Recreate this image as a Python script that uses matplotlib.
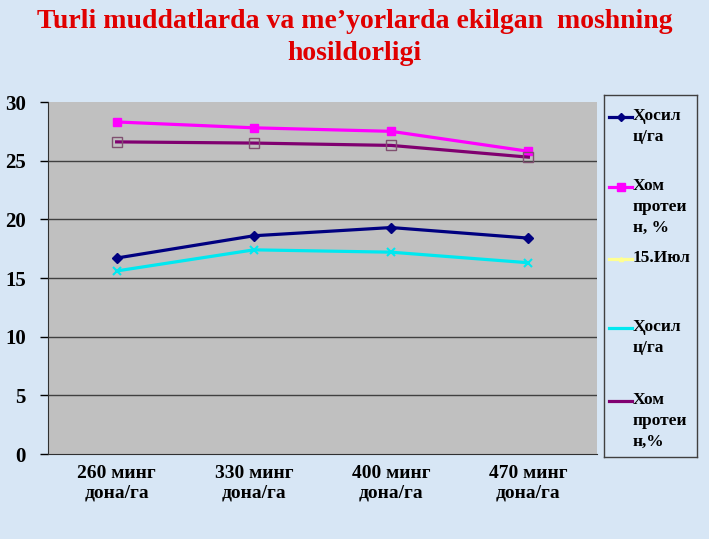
import matplotlib.pyplot as plt

# ------------------------------
# data
# ------------------------------
categories = ["260 минг\nдона/га", "330 минг\nдона/га", "400 минг\nдона/га", "470 минг\nдона/га"]
hosil_1 = [16.7, 18.6, 19.3, 18.4]
protein_1 = [28.3, 27.8, 27.5, 25.8]
hosil_2 = [15.6, 17.4, 17.2, 16.3]
protein_2 = [26.6, 26.5, 26.3, 25.3]
yticks = [0, 5, 10, 15, 20, 25, 30]

legend_labels = ["Ҳосил\nц/га", "Хом\nпротеи\nн, %", "15.Июл", "Ҳосил\nц/га", "Хом\nпротеи\nн,%"]

W, H = 709, 539
BG = "#d7e6f5"
SERIF = ["Liberation Serif", "DejaVu Serif"]

fig = plt.figure(figsize=(W / 100, H / 100), dpi=100, facecolor=BG)


def box(x0, y0, x1, y1):
    # pixel box (top-left origin) -> figure fraction rect
    return [x0 / W, 1 - y1 / H, (x1 - x0) / W, (y1 - y0) / H]


# ------------------------------
# title
# ------------------------------
fig.text(0.5, 1 - 21 / H, "Turli muddatlarda va me’yorlarda ekilgan  moshning",
         ha="center", va="center", color="#e00000", fontsize=20, fontweight="bold",
         family=SERIF)
fig.text(0.5, 1 - 53 / H, "hosildorligi",
         ha="center", va="center", color="#e00000", fontsize=20, fontweight="bold",
         family=SERIF)

# ------------------------------
# main chart
# ------------------------------
ax = fig.add_axes(box(48, 102, 597, 454))
ax.set_facecolor("#c0c0c0")
x = range(len(categories))

ax.plot(x, hosil_1, color="#000080", lw=2.3, marker="D", ms=5, zorder=3)
ax.plot(x, protein_1, color="#ff00ff", lw=2.3, marker="s", ms=6, zorder=3)
ax.plot(x, hosil_2, color="#00e8f0", lw=2.3, marker="x", ms=6, mew=1.5, zorder=3)
ax.plot(x, protein_2, color="#800070", lw=2.3, marker="s", ms=7, mfc="none",
        mec="#805070", zorder=3)

ax.set_xlim(-0.5, len(categories) - 0.5)
ax.set_ylim(0, 30)
ax.set_yticks(yticks)
ax.set_yticklabels([str(v) for v in yticks], fontsize=15, fontweight="bold", family=SERIF)
ax.set_xticks(list(x))
ax.set_xticklabels(categories, fontsize=14, fontweight="bold", family=SERIF, linespacing=1.2)
ax.tick_params(axis="x", length=0, pad=8)
ax.tick_params(axis="y", length=6, width=1, pad=10)
for v in yticks[1:-1]:
    ax.axhline(v, color="#404040", lw=1, zorder=1)
for s in ["top", "right"]:
    ax.spines[s].set_visible(False)
ax.spines["left"].set_color("#303030")
ax.spines["bottom"].set_color("#303030")

# ------------------------------
# legend box
# ------------------------------
lg = fig.add_axes(box(604, 95, 697, 457))
lg.set_xlim(604, 697)
lg.set_ylim(457, 95)
lg.set_facecolor("none")
lg.set_xticks([])
lg.set_yticks([])
for s in lg.spines.values():
    s.set_color("#404040")
    s.set_linewidth(1)

styles = [
    dict(color="#000080", marker="D", ms=4),
    dict(color="#ff00ff", marker="s", ms=6),
    dict(color="#ffff90", marker="^", ms=3),
    dict(color="#00e8f0", marker="", ms=0),
    dict(color="#800070", marker="", ms=0),
]
rows = [117, 187, 259, 328, 401]
for lab, st, yy in zip(legend_labels, styles, rows):
    lg.plot([609, 620.5, 632], [yy, yy, yy], lw=2.3, markevery=[1], **st)
    lg.text(633, yy - 9, lab, va="top", ha="left", fontsize=12.5, fontweight="bold",
            family=SERIF, linespacing=1.42)

fig.savefig("out.png", dpi=100, facecolor=BG)
